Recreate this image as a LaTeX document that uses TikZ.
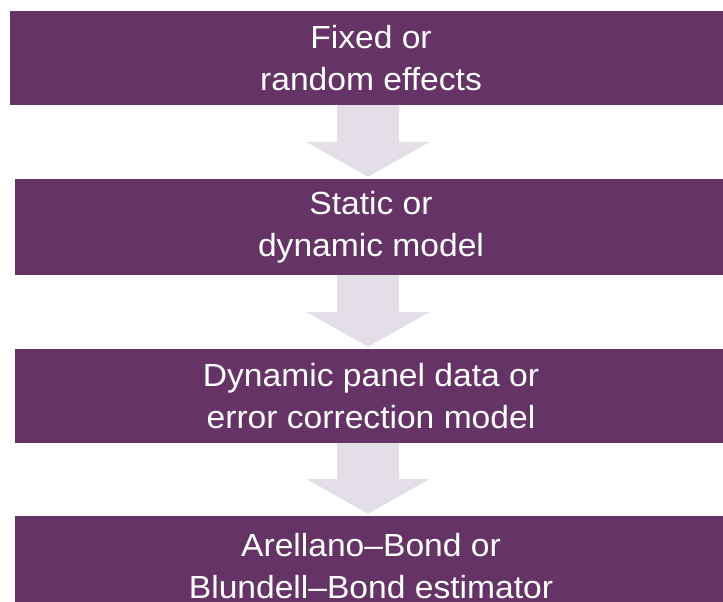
\documentclass[tikz,border=0pt]{standalone}
\usepackage{fontspec}
\setmainfont{Liberation Sans}[FakeStretch=1.05]
\usetikzlibrary{calc}
\definecolor{plum}{RGB}{102,51,102}
\definecolor{lilac}{RGB}{227,222,232}

\begin{document}
\begin{tikzpicture}[
  x=1pt,
  y=-1pt,
  every node/.style={align=center},
  stagebox/.style={
    fill=plum,
    text=white,
    font=\fontsize{32}{42}\selectfont,
    minimum width=712pt,
    inner sep=0pt
  },
  blockarrow/.style={fill=lilac}
]
  \useasboundingbox (0,0) rectangle (723,602);
  \clip (0,0) rectangle (723,602);

  % Stages of the model choice, top to bottom.
  \node[stagebox, minimum width=722pt, minimum height=94pt] (effects) at (371,58) {Fixed or\\random effects};
  \node[stagebox, minimum height=96pt] (dynamics) at (371,227) {Static or\\dynamic model};
  \node[stagebox, minimum height=94pt] (panel) at (371,396) {Dynamic panel data or\\error correction model};
  \node[stagebox, minimum height=101pt] (estimator) at (371,566.5) {Arellano--Bond or\\Blundell--Bond estimator};

  % Block arrows between the stages.
  \coordinate (axis) at (368,0);
  \foreach \from/\to in {effects/dynamics, dynamics/panel, panel/estimator}
    \fill[blockarrow] let \p1=(\from.south), \p2=(\to.north), \p3=(axis) in
      (\x3-31pt,\y1) -- (\x3+31pt,\y1) -- (\x3+31pt,\y2+37pt) -- (\x3+62pt,\y2+37pt)
      -- (\x3,\y2+2pt) -- (\x3-62pt,\y2+37pt) -- (\x3-31pt,\y2+37pt) -- cycle;
\end{tikzpicture}
\end{document}
